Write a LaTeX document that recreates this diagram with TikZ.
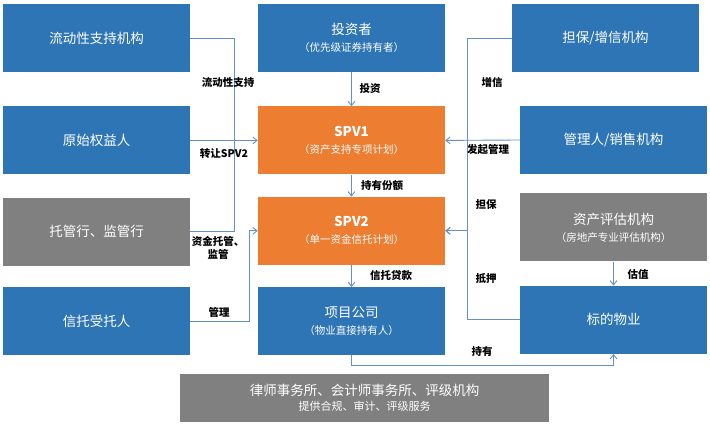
\documentclass[tikz,border=0pt]{standalone}
\usepackage{fontspec}
\setmainfont{Noto Sans CJK SC}
\usetikzlibrary{arrows.meta,positioning}
\definecolor{boxblue}{RGB}{46,117,182}
\definecolor{boxorange}{RGB}{237,125,49}
\definecolor{boxgray}{RGB}{128,128,128}
\definecolor{linkblue}{RGB}{100,145,205}
\newcommand{\subtext}[1]{{\fontsize{10.5}{13}\selectfont #1}}

\begin{document}
\begin{tikzpicture}[x=1pt, y=-1pt,
    box/.style={rectangle, fill=boxblue, text=white, minimum width=187pt, minimum height=68pt, align=center, inner sep=2pt, font=\fontsize{13.5}{17}\selectfont},
    orangebox/.style={box, fill=boxorange},
    graybox/.style={box, fill=boxgray},
    link/.style={linkblue, line width=0.9pt},
    arr/.style={-{Straight Barb[length=1.5mm, width=2.4mm]}, link},
    label/.style={font=\fontsize{10.5}{12.5}\selectfont\bfseries, text=black, inner sep=1pt, align=center},
]
\fill[white] (0,0) rectangle (710,425);
\useasboundingbox (0,0) rectangle (710,425);

% left column
\node[box] (lq) at (96.5,38) {流动性支持机构};
\node[box, below=34pt of lq] (orig) {原始权益人};
\node[graybox, below=23pt of orig] (cust) {托管行、监管行};
\node[box, below=21pt of cust] (trustee) {信托受托人};

% middle column
\node[box] (inv) at (351.5,38) {投资者\\\subtext{（优先级证券持有者）}};
\node[orangebox, below=34pt of inv] (spv1) {\textbf{SPV1}\\\subtext{（资产支持专项计划）}};
\node[orangebox, below=22pt of spv1] (spv2) {\textbf{SPV2}\\\subtext{（单一资金信托计划）}};
\node[box, below=22pt of spv2] (proj) {项目公司\\\subtext{（物业直接持有人）}};

% right column
\node[box] (guar) at (605.5,38) {担保/增信机构};
\node[box] (mgr) at (613.5,140) {管理人/销售机构};
\node[graybox, below=19pt of mgr] (eval) {资产评估机构\\\subtext{（房地产专业评估机构）}};
\node[box, below=24pt of eval] (prop) {标的物业};

\node[graybox, minimum width=369pt, minimum height=48pt] (law) at (364.5,398)
    {律师事务所、会计师事务所、评级机构\\[-2pt]{\fontsize{11}{13}\selectfont 提供合规、审计、评级服务}};

% connectors on the left
\coordinate (lbus) at (234,0);
\coordinate (tbus) at (249,0);
\draw[link] (lq.east) -- (lbus |- lq.east) |- (cust.east);
\draw[arr] (orig.east) -- (spv1.west);
\draw[arr] (trustee.east) -- (tbus |- trustee.east) |- (spv2.west);

% main chain
\draw[arr] (inv) -- (spv1);
\draw[arr] (spv1) -- (spv2);
\draw[arr] (spv2) -- (proj);
\draw[arr] (proj.south) -- ++(0,10) -| (prop.south);

% connectors on the right
\coordinate (rbus) at (467,0);
\draw[arr] (guar.west) -| (rbus |- spv2.east) -- (spv2.east);
\draw[arr] (mgr.west) -- (spv1.east);
\draw[arr] (prop.west) -| (rbus |- spv2.east) -- (spv2.east);
\draw[arr] (eval.south -| prop.north) -- (prop.north);

% labels
\node[label] (lqlab) at (228,83) {流动性支持};
\node[label] (origlab) at (224,154) {转让SPV2};
\node[label] (custlab) at (218,248) {资金托管、\\监管};
\node[label] (trustlab) at (219,312) {管理};
\node[label] (invlab) at (370,89) {投资};
\node[label] (sharelab) at (382,186) {持有份额};
\node[label] (loanlab) at (391,275) {信托贷款};
\node[label] (evallab) at (638,275) {估值};
\node[label] (holdlab) at (482,352) {持有};
\node[label] (guarlab) at (492,83) {增信};
\node[label] (mgrlab) at (488,150) {发起管理};
\node[label] (danlab) at (486,205) {担保};
\node[label] (pledgelab) at (486,279) {抵押};
\end{tikzpicture}
\end{document}
